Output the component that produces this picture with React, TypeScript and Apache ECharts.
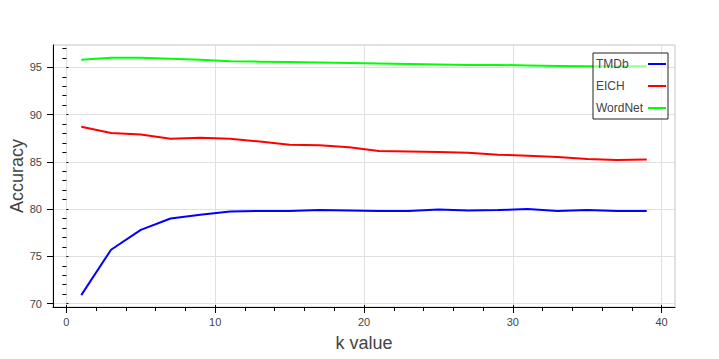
import React, { useEffect, useRef } from "react";
import * as echarts from "echarts";

const kValues = [1, 3, 5, 7, 9, 11, 13, 15, 17, 19, 21, 23, 25, 27, 29, 31, 33, 35, 37, 39];
const tmdb = [70.9, 75.7, 77.8, 79.0, 79.4, 79.75, 79.8, 79.8, 79.9, 79.85, 79.8, 79.8, 79.95, 79.85, 79.9, 80.0, 79.8, 79.9, 79.8, 79.8];
const eich = [88.7, 88.05, 87.9, 87.45, 87.55, 87.45, 87.15, 86.8, 86.75, 86.55, 86.15, 86.1, 86.05, 85.95, 85.75, 85.65, 85.5, 85.3, 85.2, 85.25];
const wordnet = [95.8, 96.0, 96.0, 95.9, 95.8, 95.65, 95.6, 95.55, 95.5, 95.45, 95.4, 95.35, 95.3, 95.25, 95.25, 95.2, 95.15, 95.1, 95.1, 95.1];

const xMajor = [0, 10, 20, 30, 40];
const xMinor = [2, 4, 6, 8, 12, 14, 16, 18, 22, 24, 26, 28, 32, 34, 36, 38];
const yMajor = [70, 75, 80, 85, 90, 95];
const yMinor = [71, 72, 73, 74, 76, 77, 78, 79, 81, 82, 83, 84, 86, 87, 88, 89, 91, 92, 93, 94, 96, 97];

const X_MIN = -0.9;
const X_MAX = 40.9;
const Y_MIN = 69.64;
const Y_MAX = 97.36;

const seriesNames = ["TMDb", "EICH", "WordNet"];
const seriesColors = ["#0000ff", "#ff0000", "#00ff00"];

export default function App() {
  const ref = useRef<HTMLDivElement>(null);
  useEffect(() => {
    if (!ref.current) return;
    const chart = echarts.init(ref.current, null, { renderer: "svg" });
    const gridPos = { left: 53, right: 44, top: 45, bottom: 52, containLabel: false, outerBoundsMode: "none" };
    const labelColor = "#444";
    const font = "Liberation Sans, Arial, Helvetica, sans-serif";
    const hiddenAxisCommon = {
      axisLine: { show: false },
      axisLabel: { show: false },
      splitLine: { show: false },
    };
    const data = [tmdb, eich, wordnet];
    const lineIcon = "path://M0,0 L18,0 L18,2 L0,2 Z";
    chart.setOption({
      animation: false,
      backgroundColor: "#ffffff",
      textStyle: { fontFamily: font },
      grid: [
        { ...gridPos, show: true, borderColor: "#c4c4c4", borderWidth: 1 },
        { ...gridPos, show: false },
        { ...gridPos, show: false },
      ],
      legend: {
        left: 593,
        top: 53,
        orient: "vertical",
        align: "right",
        itemWidth: 18,
        itemHeight: 2,
        itemGap: 10,
        padding: [5, 2, 5, 3],
        borderColor: "#222",
        borderWidth: 1,
        borderRadius: 0,
        backgroundColor: "rgba(255,255,255,0.6)",
        data: seriesNames.map((n) => ({ name: n, icon: lineIcon })),
        formatter: "{a|{name}}",
        textStyle: {
          color: labelColor,
          fontSize: 12,
          fontFamily: font,
          rich: { a: { width: 47, height: 14, align: "left", fontSize: 12, color: labelColor, fontFamily: font } },
        },
      },
      xAxis: [
        {
          type: "value",
          gridIndex: 0,
          min: X_MIN,
          max: X_MAX,
          name: "k value",
          nameLocation: "middle",
          nameGap: 27,
          nameMoveOverlap: false,
          nameTextStyle: { fontSize: 18, color: labelColor, fontFamily: font },
          axisLine: { show: true, onZero: false, lineStyle: { color: "#000", width: 1 } },
          axisTick: { show: true, length: 6, customValues: xMajor, lineStyle: { color: "#000" } },
          axisLabel: { customValues: xMajor, color: labelColor, fontSize: 11, margin: 9 },
          splitLine: { show: true, lineStyle: { color: "#e0e0e0", width: 1 } },
        },
        {
          type: "value",
          gridIndex: 1,
          min: X_MIN,
          max: X_MAX,
          ...hiddenAxisCommon,
          axisTick: { show: true, length: 4, customValues: xMinor, lineStyle: { color: "#000" } },
        },
        {
          type: "value",
          gridIndex: 2,
          min: X_MIN,
          max: X_MAX,
          ...hiddenAxisCommon,
          axisTick: { show: true, inside: true, length: 2, customValues: xMajor, lineStyle: { color: "#000" } },
        },
      ],
      yAxis: [
        {
          type: "value",
          gridIndex: 0,
          min: Y_MIN,
          max: Y_MAX,
          name: "Accuracy",
          nameLocation: "middle",
          nameGap: 27,
          nameMoveOverlap: false,
          nameTextStyle: { fontSize: 18, color: labelColor, fontFamily: font },
          axisLine: { show: true, onZero: false, lineStyle: { color: "#000", width: 1 } },
          axisTick: { show: true, length: 6, customValues: yMajor, lineStyle: { color: "#000" } },
          axisLabel: { customValues: yMajor, color: labelColor, fontSize: 11, margin: 11 },
          splitLine: { show: true, lineStyle: { color: "#e0e0e0", width: 1 } },
        },
        {
          type: "value",
          gridIndex: 1,
          min: Y_MIN,
          max: Y_MAX,
          ...hiddenAxisCommon,
          axisTick: { show: true, length: 4, customValues: yMinor, lineStyle: { color: "#000" } },
        },
        {
          type: "value",
          gridIndex: 2,
          min: Y_MIN,
          max: Y_MAX,
          ...hiddenAxisCommon,
          axisTick: { show: true, inside: true, length: 2, customValues: yMajor, lineStyle: { color: "#000" } },
        },
      ],
      series: seriesNames.map((name, i) => ({
        name,
        type: "line",
        xAxisIndex: 0,
        yAxisIndex: 0,
        symbol: "none",
        showSymbol: false,
        color: seriesColors[i],
        lineStyle: { color: seriesColors[i], width: 2 },
        data: kValues.map((k, j) => [k, data[i][j]]),
      })),
    });
    return () => chart.dispose();
  }, []);
  return <div ref={ref} style={{ width: 719, height: 359, position: "absolute", left: 0, top: 0 }} />;
}
